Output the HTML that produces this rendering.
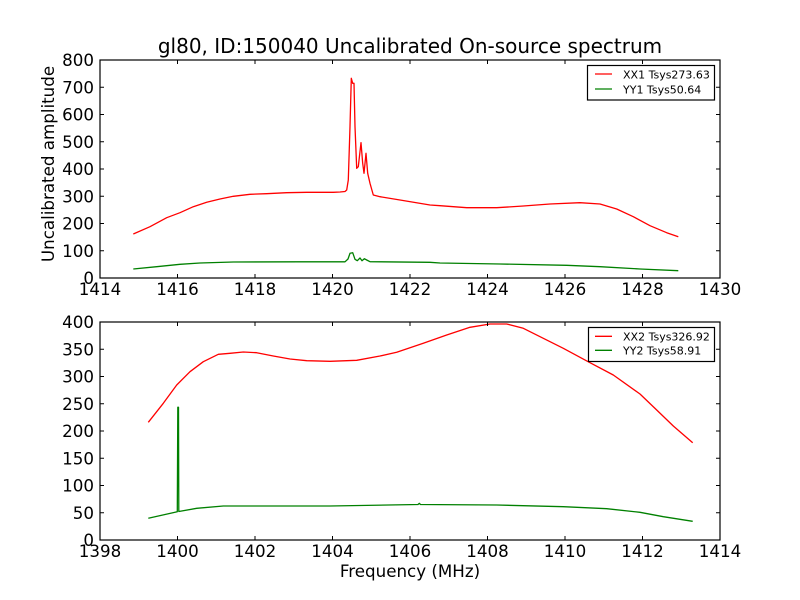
<!DOCTYPE html>
<html><head><meta charset="utf-8"><style>
html,body{margin:0;padding:0;background:#fff;}
svg{display:block;font-family:"DejaVu Sans","Liberation Sans",sans-serif;}
</style></head><body>
<svg width="800" height="600" viewBox="0 0 800 600" xmlns="http://www.w3.org/2000/svg">
<rect width="800" height="600" fill="#fff"/>
<text x="410" y="53" font-size="20" text-anchor="middle" fill="#000">gl80, ID:150040 Uncalibrated On-source spectrum</text>

<!-- TOP AXES -->
<g fill="none" stroke-linejoin="round">
<polyline stroke="#ff0000" stroke-width="1.3" points="133.3,234 150,226.7 166.7,217.7 180,212.7 193.3,206.7 206.7,202.3 220,199 233.3,196.3 250,194.3 266.7,193.7 286.7,192.7 306.7,192.3 333.3,192.3 340,192 345,191.5 346.7,190 348.3,180 350,126.7 351.3,78.3 352.7,83.3 354,83.3 355,126.7 356.7,168.3 358.3,166.7 361,142.7 362.7,163.3 364,173.3 366,153.3 367.7,173.3 370,183.3 373.3,195 380,196.7 400,200 430,205 440,205.7 466.7,207.7 496.7,207.7 523.3,206 550,204 580,202.7 600,204 616.7,209 633.3,216.7 650,225.7 666.7,232.7 678.3,236.7"/>
<polyline stroke="#008000" stroke-width="1.3" points="133.3,269 156.7,266.7 180,264.3 200,263 233.3,262 300,261.8 345,261.8 348,259 350,253.3 352.7,252.7 355,259.3 357.3,260.7 360,258 362,260.7 364.3,258.7 366.7,260 370,261.7 430,262.3 440,263 500,264 566.7,265.3 600,266.7 640,269 678.3,270.7"/>
</g>
<rect x="100" y="60" width="620" height="218" fill="none" stroke="#000" stroke-width="1.2"/>
<g stroke="#000" stroke-width="1">
<path d="M177.5,278v-4M255,278v-4M332.5,278v-4M410,278v-4M487.5,278v-4M565,278v-4M642.5,278v-4M177.5,60v4M255,60v4M332.5,60v4M410,60v4M487.5,60v4M565,60v4M642.5,60v4"/>
<path d="M100,250.75h4M100,223.5h4M100,196.25h4M100,169h4M100,141.75h4M100,114.5h4M100,87.25h4M720,250.75h-4M720,223.5h-4M720,196.25h-4M720,169h-4M720,141.75h-4M720,114.5h-4M720,87.25h-4"/>
</g>
<g font-size="16.7" fill="#000" text-anchor="middle">
<text x="100" y="295">1414</text><text x="177.5" y="295">1416</text><text x="255" y="295">1418</text><text x="332.5" y="295">1420</text><text x="410" y="295">1422</text><text x="487.5" y="295">1424</text><text x="565" y="295">1426</text><text x="642.5" y="295">1428</text><text x="720" y="295">1430</text>
</g>
<g font-size="16.7" fill="#000" text-anchor="end">
<text x="94" y="284">0</text><text x="94" y="256.75">100</text><text x="94" y="229.5">200</text><text x="94" y="202.25">300</text><text x="94" y="175">400</text><text x="94" y="147.75">500</text><text x="94" y="120.5">600</text><text x="94" y="93.25">700</text><text x="94" y="66">800</text>
</g>
<text transform="translate(54,164) rotate(-90)" font-size="16.7" text-anchor="middle" fill="#000">Uncalibrated amplitude</text>
<rect x="587.5" y="65.5" width="127" height="34.5" fill="#fff" stroke="#000" stroke-width="1.2"/>
<line x1="595" y1="74" x2="612" y2="74" stroke="#ff0000" stroke-width="1.3"/>
<line x1="595" y1="89" x2="612" y2="89" stroke="#008000" stroke-width="1.3"/>
<text x="623" y="78.3" font-size="11" fill="#000">XX1 Tsys273.63</text>
<text x="623" y="93.3" font-size="11" fill="#000">YY1 Tsys50.64</text>

<!-- BOTTOM AXES -->
<g fill="none" stroke-linejoin="round">
<polyline stroke="#ff0000" stroke-width="1.3" points="148.3,422.3 163.3,403.3 176.7,385 190,371.7 203.3,361.7 218.3,354.3 230,353.3 243.3,352 256.7,352.7 273.3,356 290,359 306.7,360.7 330,361.3 356.7,360.3 380,356 396.7,352.3 423.3,343.3 446.7,335 470,327.3 490,324 506.7,324 523.3,328.3 543.3,338.3 563.3,348.3 590,362.7 613.3,375 640,394 656.7,410 673.3,426 692.7,442.7"/>
<polyline stroke="#008000" stroke-width="1.3" points="148.3,518.3 177.3,511.7 177.8,407.3 178.5,407.3 178.8,511.5 196.7,508.3 223.3,506 330,506 418,504.5 419.3,503.3 420.5,504.5 496.7,505 563.3,506.7 606.7,508.7 640,512.3 663.3,516.7 692.7,521.3"/>
</g>
<rect x="100" y="322" width="620" height="218" fill="none" stroke="#000" stroke-width="1.2"/>
<g stroke="#000" stroke-width="1">
<path d="M177.5,540v-4M255,540v-4M332.5,540v-4M410,540v-4M487.5,540v-4M565,540v-4M642.5,540v-4M177.5,322v4M255,322v4M332.5,322v4M410,322v4M487.5,322v4M565,322v4M642.5,322v4"/>
<path d="M100,512.75h4M100,485.5h4M100,458.25h4M100,431h4M100,403.75h4M100,376.5h4M100,349.25h4M720,512.75h-4M720,485.5h-4M720,458.25h-4M720,431h-4M720,403.75h-4M720,376.5h-4M720,349.25h-4"/>
</g>
<g font-size="16.7" fill="#000" text-anchor="middle">
<text x="100" y="557">1398</text><text x="177.5" y="557">1400</text><text x="255" y="557">1402</text><text x="332.5" y="557">1404</text><text x="410" y="557">1406</text><text x="487.5" y="557">1408</text><text x="565" y="557">1410</text><text x="642.5" y="557">1412</text><text x="720" y="557">1414</text>
</g>
<g font-size="16.7" fill="#000" text-anchor="end">
<text x="94" y="546">0</text><text x="94" y="518.75">50</text><text x="94" y="491.5">100</text><text x="94" y="464.25">150</text><text x="94" y="437">200</text><text x="94" y="409.75">250</text><text x="94" y="382.5">300</text><text x="94" y="355.25">350</text><text x="94" y="328">400</text>
</g>
<text x="410" y="577" font-size="16.7" text-anchor="middle" fill="#000">Frequency (MHz)</text>
<rect x="588.5" y="327.5" width="126" height="34" fill="#fff" stroke="#000" stroke-width="1.2"/>
<line x1="595" y1="336.3" x2="612" y2="336.3" stroke="#ff0000" stroke-width="1.3"/>
<line x1="595" y1="350.3" x2="612" y2="350.3" stroke="#008000" stroke-width="1.3"/>
<text x="623" y="340.5" font-size="11" fill="#000">XX2 Tsys326.92</text>
<text x="623" y="354.5" font-size="11" fill="#000">YY2 Tsys58.91</text>
</svg>
</body></html>
